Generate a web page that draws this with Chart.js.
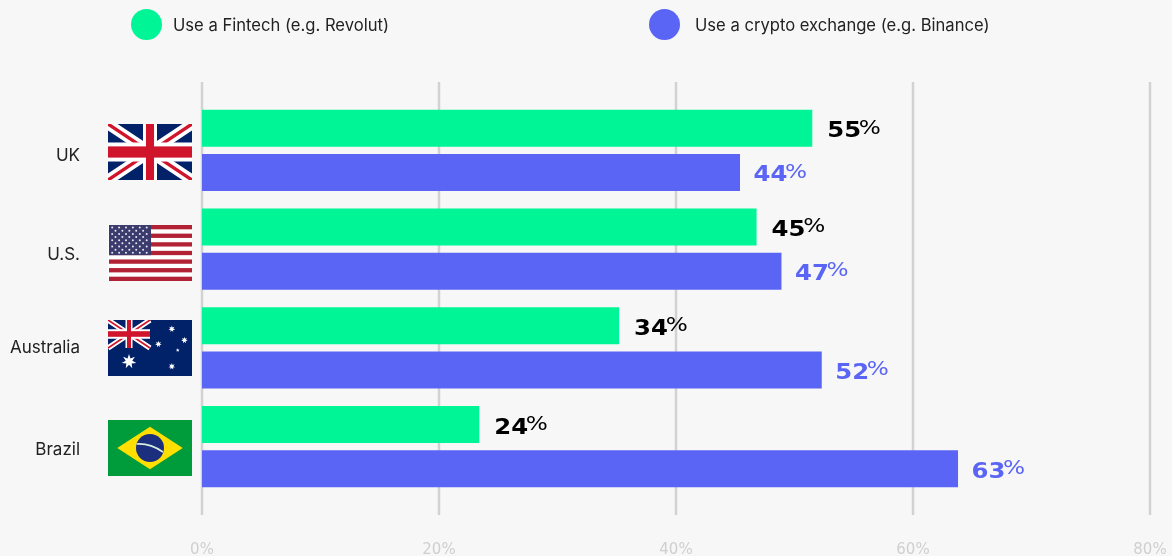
<!DOCTYPE html>
<html lang="en">
<head>
<meta charset="UTF-8">
<title>Fintech and crypto exchange use</title>
<script src="https://cdn.jsdelivr.net/npm/chart.js"></script>
<style>
  html, body { margin: 0; padding: 0; background: #f7f7f7; }
  #wrap { position: relative; width: 1172px; height: 556px; overflow: hidden; }
  canvas { position: absolute; left: 0; top: 0; }
  .legend { position: absolute; top: 9px; height: 32px; display: flex; align-items: center;
    font: 16.6px Inter, sans-serif; color: #222; white-space: nowrap; }
  .legend i { position: absolute; left: 0; top: 0; width: 31px; height: 31px; border-radius: 50%; }
</style>
</head>
<body>
<div id="wrap">
  <canvas id="chart" width="1172" height="556"></canvas>
  <div class="legend" style="left:131px;padding-left:42px"><i style="background:#00f596"></i><span id="legendA"></span></div>
  <div class="legend" style="left:649px;padding-left:46px"><i style="background:#5a65f5"></i><span id="legendB"></span></div>
</div>
<script>
// Données
const countries = ['UK', 'U.S.', 'Australia', 'Brazil'];
const fintechName = 'Use a Fintech (e.g. Revolut)';
const cryptoName = 'Use a crypto exchange (e.g. Binance)';
// longueur des barres (elle ne suit pas exactement les étiquettes dans l'original)
const fintechBars = [51.5, 46.8, 35.2, 23.4];
const cryptoBars = [45.4, 48.9, 52.3, 63.8];
// étiquettes affichées
const fintechLabels = ['55', '45', '34', '24'];
const cryptoLabels = ['44', '47', '52', '63'];
const xTicks = [0, 20, 40, 60, 80];

const GREEN = '#00f596';
const BLUE = '#5a65f5';
const labelNudge = [5.5, 6, 0, 3.5];
const flagNudge = [1.5, 3.5, 0.5, 1.5];

document.getElementById('legendA').textContent = fintechName;
document.getElementById('legendB').textContent = cryptoName;

function star(ctx, cx, cy, r, points) {
  ctx.beginPath();
  for (let i = 0; i < points * 2; i++) {
    const rad = i % 2 ? r * 0.45 : r;
    const a = -Math.PI / 2 + i * Math.PI / points;
    ctx.lineTo(cx + Math.cos(a) * rad, cy + Math.sin(a) * rad);
  }
  ctx.closePath();
  ctx.fill();
}

// Union Jack dans un rectangle w x h
function unionJack(ctx, w, h) {
  ctx.fillStyle = '#012169';
  ctx.fillRect(0, 0, w, h);
  ctx.strokeStyle = '#fff';
  ctx.lineWidth = h * 0.19;
  ctx.beginPath();
  ctx.moveTo(0, 0); ctx.lineTo(w, h);
  ctx.moveTo(w, 0); ctx.lineTo(0, h);
  ctx.stroke();
  ctx.strokeStyle = '#cf142b';
  ctx.lineWidth = h * 0.06;
  ctx.beginPath();
  ctx.moveTo(0, 0); ctx.lineTo(w, h);
  ctx.moveTo(w, 0); ctx.lineTo(0, h);
  ctx.stroke();
  ctx.fillStyle = '#fff';
  ctx.fillRect(w / 2 - h * 0.125, 0, h * 0.25, h);
  ctx.fillRect(0, h / 2 - h * 0.17, w, h * 0.34);
  ctx.fillStyle = '#cf142b';
  ctx.fillRect(w / 2 - h * 0.072, 0, h * 0.144, h);
  ctx.fillRect(0, h / 2 - h * 0.1, w, h * 0.2);
}

function usFlag(ctx, w, h) {
  ctx.fillStyle = '#fff';
  ctx.fillRect(0, 0, w, h);
  ctx.fillStyle = '#b22234';
  const sh = h / 13;
  for (let i = 0; i < 13; i += 2) ctx.fillRect(1, i * sh, w - 1, sh);
  ctx.fillStyle = '#3c3b6e';
  ctx.fillRect(1, 0, w * 0.5, sh * 7);
  ctx.fillStyle = '#e8e8f0';
  for (let r = 0; r < 9; r++) {
    const n = r % 2 ? 5 : 6;
    for (let c = 0; c < n; c++) {
      const sx = (r % 2 ? 7.5 : 4.2) + c * 6.9;
      ctx.beginPath();
      ctx.arc(sx, 2.6 + r * 3.15, 1, 0, Math.PI * 2);
      ctx.fill();
    }
  }
}

function auFlag(ctx, w, h) {
  ctx.fillStyle = '#012169';
  ctx.fillRect(0, 0, w, h);
  unionJack(ctx, w * 0.5, h * 0.5);
  ctx.fillStyle = '#fff';
  star(ctx, w * 0.25, h * 0.74, 7.5, 7);
  star(ctx, w * 0.76, h * 0.16, 3.4, 7);
  star(ctx, w * 0.6, h * 0.43, 3.4, 7);
  star(ctx, w * 0.91, h * 0.36, 3.4, 7);
  star(ctx, w * 0.83, h * 0.54, 1.9, 5);
  star(ctx, w * 0.76, h * 0.83, 3.4, 7);
}

function brFlag(ctx, w, h) {
  ctx.fillStyle = '#009b3a';
  ctx.fillRect(0, 0, w, h);
  ctx.fillStyle = '#fedf00';
  ctx.beginPath();
  ctx.moveTo(w * 0.11, h / 2);
  ctx.lineTo(w / 2, h * 0.12);
  ctx.lineTo(w * 0.89, h / 2);
  ctx.lineTo(w / 2, h * 0.88);
  ctx.closePath();
  ctx.fill();
  ctx.fillStyle = '#1c2f7f';
  ctx.beginPath();
  ctx.arc(w / 2, h / 2, 14, 0, Math.PI * 2);
  ctx.fill();
  ctx.strokeStyle = '#d8efe0';
  ctx.lineWidth = 1.6;
  ctx.beginPath();
  ctx.moveTo(w / 2 - 13.5, h / 2 - 4);
  ctx.quadraticCurveTo(w / 2, h / 2 - 5, w / 2 + 13, h / 2 + 4);
  ctx.stroke();
}

const flagPainters = [unionJack, usFlag, auFlag, brFlag];

// Grille prolongée au-delà de la zone des barres, comme sur l'original
const longGrid = {
  id: 'longGrid',
  beforeDatasetsDraw(chart) {
    const { ctx, scales: { x } } = chart;
    ctx.save();
    ctx.strokeStyle = '#d2d2d2';
    ctx.lineWidth = 2.5;
    xTicks.forEach((v) => {
      const px = x.getPixelForValue(v);
      ctx.beginPath();
      ctx.moveTo(px, 82);
      ctx.lineTo(px, 515);
      ctx.stroke();
    });
    ctx.restore();
  },
};

// Noms des pays et drapeaux à gauche de l'axe
const countryLabels = {
  id: 'countryLabels',
  afterDraw(chart) {
    const { ctx, scales: { y } } = chart;
    countries.forEach((name, i) => {
      const cy = y.getPixelForValue(i);
      ctx.save();
      ctx.fillStyle = '#222';
      ctx.font = '17px Inter, sans-serif';
      ctx.textAlign = 'right';
      ctx.textBaseline = 'middle';
      ctx.fillText(name, 80, cy + labelNudge[i]);
      ctx.restore();

      ctx.save();
      ctx.translate(108, Math.round(cy + flagNudge[i] - 28));
      ctx.beginPath();
      ctx.rect(0, 0, 84, 56);
      ctx.clip();
      flagPainters[i](ctx, 84, 56);
      ctx.restore();
    });
  },
};

// Étiquettes de valeur en bout de barre, chiffres élargis et % plus fin surélevé
const valueLabels = {
  id: 'valueLabels',
  afterDatasetsDraw(chart) {
    const { ctx } = chart;
    const texts = [fintechLabels, cryptoLabels];
    const colors = ['#000', BLUE];
    const gaps = [15, 13.5];
    [0, 1].forEach((d) => {
      chart.getDatasetMeta(d).data.forEach((bar, i) => {
        const left = bar.x + gaps[d];
        ctx.save();
        ctx.fillStyle = colors[d];
        ctx.textBaseline = 'middle';
        ctx.textAlign = 'left';
        ctx.translate(left, bar.y);
        ctx.scale(1.16, 1);
        ctx.font = 'bold 21px "DejaVu Sans", sans-serif';
        ctx.fillText(texts[d][i], 0, 3.5);
        const w = ctx.measureText(texts[d][i]).width;
        ctx.font = '20px "DejaVu Sans", sans-serif';
        ctx.fillText('%', w - 2, 0);
        ctx.restore();
      });
    });
  },
};

new Chart(document.getElementById('chart'), {
  type: 'bar',
  data: {
    labels: countries,
    datasets: [
      { label: fintechName, data: fintechBars, backgroundColor: GREEN },
      { label: cryptoName, data: cryptoBars, backgroundColor: BLUE },
    ],
  },
  options: {
    indexAxis: 'y',
    responsive: false,
    animation: false,
    layout: { padding: { top: 101, right: 22, left: 0, bottom: 0 } },
    datasets: { bar: { categoryPercentage: 0.892, barPercentage: 0.841 } },
    plugins: { legend: { display: false }, tooltip: { enabled: false } },
    scales: {
      x: {
        min: 0,
        max: 80,
        border: { display: false },
        grid: { display: false },
        afterFit(scale) {
          scale.height = 60;
          scale.paddingLeft = 0;
          scale.paddingRight = 0;
        },
        afterBuildTicks(scale) { scale.ticks = xTicks.map((value) => ({ value })); },
        ticks: {
          padding: 37,
          maxRotation: 0,
          color: '#cfcfcf',
          font: { family: '"DejaVu Sans", sans-serif', size: 15 },
          callback: (v) => v + '%',
        },
      },
      y: {
        border: { display: false },
        grid: { display: false },
        ticks: { display: false },
        afterFit(scale) { scale.width = 202; },
      },
    },
  },
  plugins: [longGrid, valueLabels, countryLabels],
});
</script>
</body>
</html>
